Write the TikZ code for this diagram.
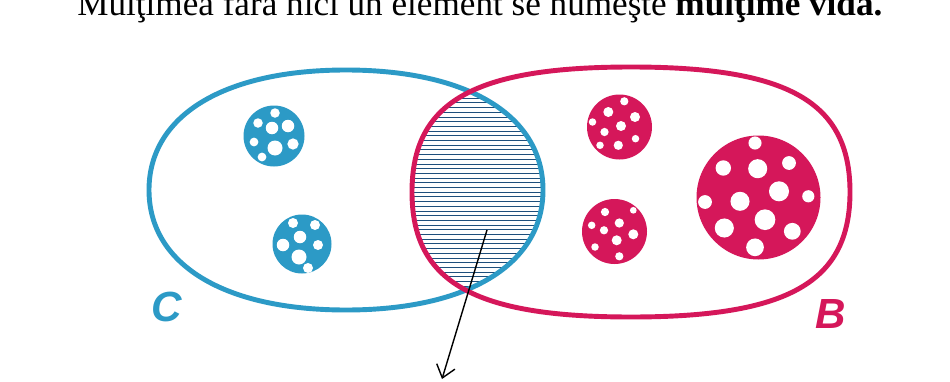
\documentclass[tikz,border=0pt]{standalone}
\usepackage{fontspec}
\setmainfont{Liberation Serif}
\newfontfamily\setfont{Liberation Sans}
\usetikzlibrary{arrows.meta}
\definecolor{cblue}{HTML}{2C9AC6}
\definecolor{bred}{HTML}{D5175A}
\definecolor{hatchblue}{HTML}{1E4F7C}
% oval set outline: centre x, centre y, half width, half height, squareness
\newcommand{\setoval}[5]{({#1+#3},#2) .. controls ({#1+#3},{#2-#5*#4}) and ({#1+#5*#3},{#2-#4}) .. (#1,{#2-#4})
  .. controls ({#1-#5*#3},{#2-#4}) and ({#1-#3},{#2-#5*#4}) .. ({#1-#3},#2)
  .. controls ({#1-#3},{#2+#5*#4}) and ({#1-#5*#3},{#2+#4}) .. (#1,{#2+#4})
  .. controls ({#1+#5*#3},{#2+#4}) and ({#1+#3},{#2+#5*#4}) .. ({#1+#3},#2) -- cycle}

\begin{document}
\begin{tikzpicture}[x=0.02cm,y=-0.02cm,
  setline/.style={line width=2.8pt},
  setlabel/.style={font=\setfont\bfseries\itshape\fontsize{24}{24}\selectfont},
  hole/.style={fill=white}]
  \useasboundingbox (0,0) rectangle (950,382);
  \clip (0,0) rectangle (950,382);
  \fill[white] (0,0) rectangle (950,382);

  \node[anchor=base west,inner sep=0pt] (title) at (77,15) {\fontsize{20}{22}\selectfont Mulţimea fără nici un element se numeşte \textbf{mulţime vidă.}};

  % hatched intersection
  \begin{scope}
    \clip \setoval{346}{190}{197}{120}{0.62};
    \clip \setoval{631}{192}{219}{125}{0.72};
    \foreach \y in {70,74.7,...,320}
      \draw[hatchblue,line width=0.55pt] (400,\y) -- (560,\y);
  \end{scope}

  \draw[cblue,setline] \setoval{346}{190}{197}{120}{0.62};
  \draw[bred,setline] \setoval{631}{192}{219}{125}{0.72};

  % elements of C
  \begin{scope}[shift={(274,136)}]
    \fill[cblue] (0,0) circle[radius=30.5];
    \foreach \a/\b/\r in {1/-23/3.8,-16/-13/3.8,-2/-8/5,14/-10/5,-20/6/3.5,1/12/6,19/8/4.5,-12/21/3.5}
      \fill[hole] (\a,\b) circle[radius=1.25*\r];
  \end{scope}
  \begin{scope}[shift={(302,244)}]
    \fill[cblue] (0,0) circle[radius=29.5];
    \foreach \a/\b/\r in {-9/-21/4,13/-19/4,-2/-7/5,-19/1/5,16/1/4,-3/13/6,6/24/4}
      \fill[hole] (\a,\b) circle[radius=1.25*\r];
  \end{scope}

  % elements of B
  \begin{scope}[shift={(619.5,127)}]
    \fill[bred] (0,0) circle[radius=32.5];
    \foreach \a/\b/\r in {4.8/-25.7/3.3,-11.2/-15/4,15.5/-10/4,-27/-5/3,1.5/-1/4,-15/5/3.3,16/11.7/3,-19.5/18.3/3,-1.2/18.3/3.7}
      \fill[hole] (\a,\b) circle[radius=1.25*\r];
  \end{scope}
  \begin{scope}[shift={(614.5,231.5)}]
    \fill[bred] (0,0) circle[radius=32.5];
    \foreach \a/\b/\r in {-9.5/-19.5/3.3,18.8/-21.2/2.7,4.8/-8.5/3.7,-22.8/-6.2/3,-10.5/-1.2/3.3,18.8/2.8/4,2.2/8.8/4,-19.5/15.5/3,4.8/24.8/3.3}
      \fill[hole] (\a,\b) circle[radius=1.25*\r];
  \end{scope}
  \begin{scope}[shift={(758.5,197.5)}]
    \fill[bred] (0,0) circle[radius=62];
    \foreach \a/\b/\r in {-3.5/-54.5/5.7,-35.2/-29.5/6.7,-0.8/-28.8/8.3,30.5/-34.5/6,-53.5/4.5/6,-18.5/3.8/8.3,20.5/-6.2/8.7,49.8/-1.2/5.3,6.5/22.2/9,-34.2/30.5/8.3,33.8/33.8/7.3,-3.5/49.8/7.7}
      \fill[hole] (\a,\b) circle[radius=1.15*\r];
  \end{scope}

  \node[setlabel,text=cblue] (labC) at (167,307) {C};
  \node[setlabel,text=bred] (labB) at (831,314) {B};

  % arrow to the empty set
  \coordinate (vid) at (487,230);
  \coordinate (vidend) at (442,379);
  \draw[-{Straight Barb[length=2.4mm,width=3.8mm]},line width=0.8pt] (vid) -- (vidend);
\end{tikzpicture}
\end{document}
